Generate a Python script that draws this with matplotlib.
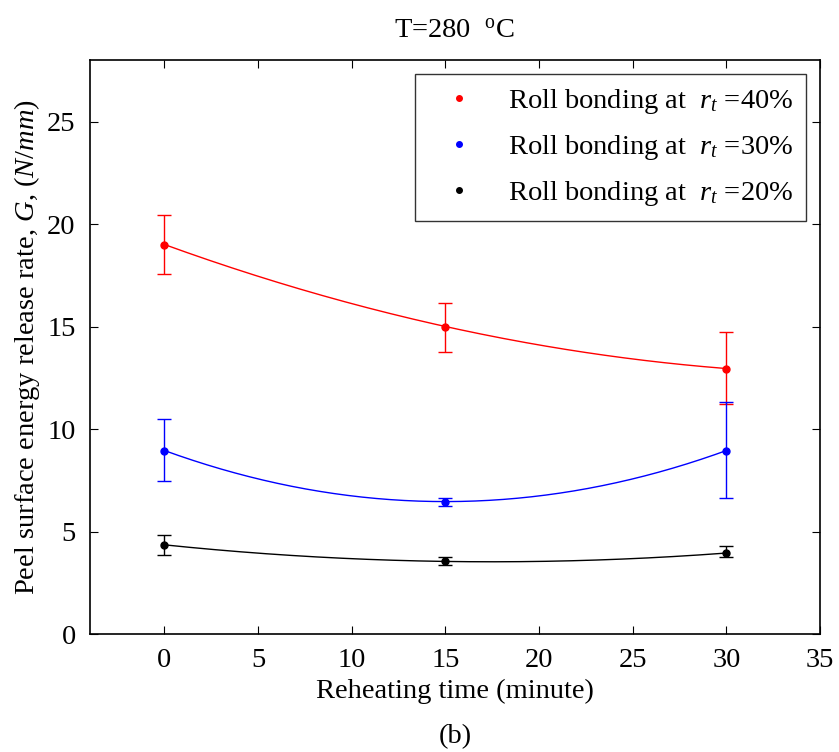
import numpy as np
import matplotlib
matplotlib.use("Agg")
from matplotlib import pyplot as plt
from matplotlib.lines import Line2D

plt.rcParams['font.family'] = ['Liberation Serif', 'DejaVu Serif']
plt.rcParams['mathtext.fontset'] = 'custom'
plt.rcParams['mathtext.rm'] = 'Liberation Serif'
plt.rcParams['mathtext.it'] = 'Liberation Serif:italic'

times = [0, 15, 30]
labels = ['40%', '30%', '20%']
colors = ['r', 'b', 'k']

# mean values and error bar ends (low, high)
g40 = [19.0, 15.0, 12.95]
g40_lo = [17.55, 13.78, 11.2]
g40_hi = [20.42, 16.15, 14.75]

g30 = [8.95, 6.46, 8.95]
g30_lo = [7.47, 6.23, 6.65]
g30_hi = [10.49, 6.64, 11.3]

g20 = [4.35, 3.54, 3.95]
g20_lo = [3.87, 3.36, 3.75]
g20_hi = [4.84, 3.77, 4.28]

series = [(g40, g40_lo, g40_hi), (g30, g30_lo, g30_hi), (g20, g20_lo, g20_hi)]

fs = 20.5
fig = plt.figure(figsize=(8.39, 7.52), dpi=100)
ax = fig.add_axes([0.1067, 0.1569, 0.8707, 0.7633])

xs = np.linspace(0, 30, 200)
handles = []
for (g, lo, hi), c, lab in zip(series, colors, labels):
    g = np.array(g)
    yerr = [g - np.array(lo), np.array(hi) - g]
    ax.errorbar(times, g, yerr=yerr, fmt='o', color=c, ms=5,
                capsize=5, elinewidth=1, capthick=1)
    p = np.polyfit(times, g, 2)
    ax.plot(xs, np.polyval(p, xs), color=c, lw=1)
    handles.append(Line2D([], [], marker='o', ms=4, ls='none', color=c,
                          label='Roll bonding at  $r_t$ =' + lab))

ax.set_xlim(-4, 35)
ax.set_ylim(0, 28)
ax.set_xticks(range(0, 36, 5))
ax.set_yticks(range(0, 26, 5))
ax.tick_params(direction='in', top=True, right=True, length=6, width=0.8,
               labelsize=fs, pad=10)
for s in ax.spines.values():
    s.set_linewidth(1.2)

ax.set_xlabel('Reheating time (minute)', fontsize=fs, labelpad=4)
ax.set_ylabel('Peel surface energy release rate, $G$, $(N/mm)$', fontsize=fs,
              labelpad=4)
ax.set_title('T=280  $^{\\rm o}$C', fontsize=fs, pad=16)
fig.text(0.543, 0.012, '(b)', fontsize=fs, ha='center')

leg = ax.legend(handles=handles, loc='upper right', fontsize=fs,
                frameon=True, fancybox=False, edgecolor='k',
                borderaxespad=0.5, handlelength=2.2, handletextpad=0.6,
                labelspacing=0.6, borderpad=0.45)
leg.get_frame().set_linewidth(1.0)

fig.savefig('out.png', dpi=100)
